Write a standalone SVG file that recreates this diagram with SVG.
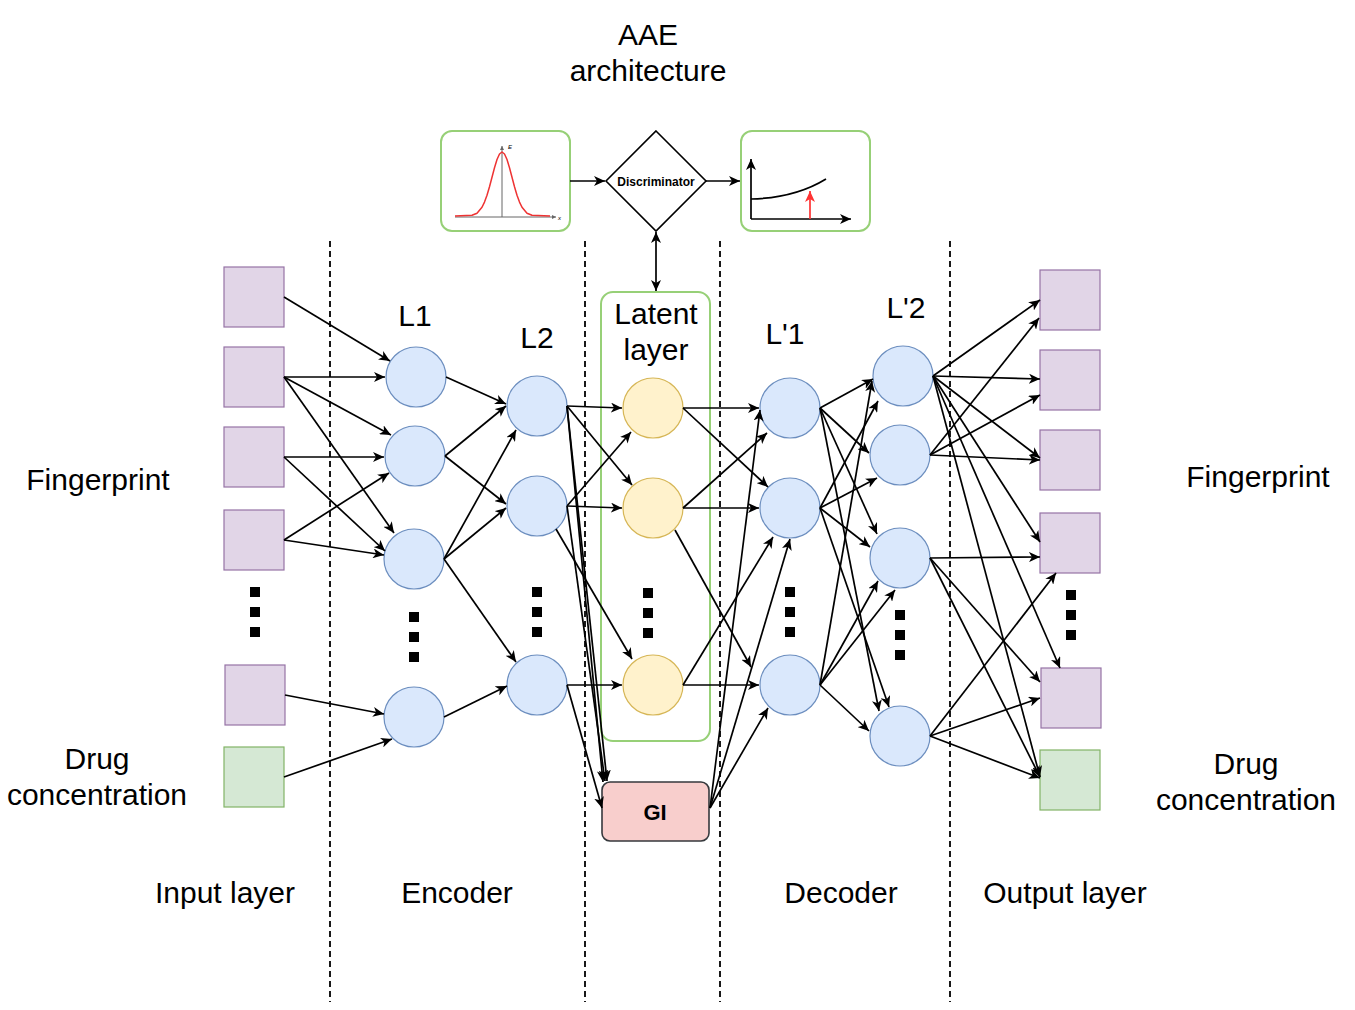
<svg xmlns="http://www.w3.org/2000/svg" width="1355" height="1010" viewBox="0 0 1355 1010">
<defs>
<marker id="ar" markerUnits="userSpaceOnUse" markerWidth="12" markerHeight="10" refX="11" refY="5" orient="auto"><path d="M0,0 L11,5 L0,10 L3,5 Z" fill="#000"/></marker>
<marker id="ars" markerUnits="userSpaceOnUse" markerWidth="12" markerHeight="10" refX="11" refY="5" orient="auto-start-reverse"><path d="M0,0 L11,5 L0,10 L3,5 Z" fill="#000"/></marker>
<marker id="arr" markerUnits="userSpaceOnUse" markerWidth="12" markerHeight="10" refX="11" refY="5" orient="auto"><path d="M0,0 L11,5 L0,10 L3,5 Z" fill="#ff3333"/></marker>
<marker id="arg" markerUnits="userSpaceOnUse" markerWidth="5" markerHeight="4" refX="4" refY="2" orient="auto"><path d="M0,0 L4,2 L0,4 Z" fill="#666"/></marker>
</defs>
<style>
text{font-family:"Liberation Sans",Arial,Helvetica,sans-serif;fill:#000}
.lbl{font-size:30px;text-anchor:middle}
.sq-p{fill:#e1d5e7;stroke:#9673a6;stroke-width:1.2}
.sq-g{fill:#d5e8d4;stroke:#82b366;stroke-width:1.2}
.nb{fill:#dae8fc;stroke:#6c8ebf;stroke-width:1.2}
.ny{fill:#fff2cc;stroke:#d6b656;stroke-width:1.2}
.gbox{fill:#fff;stroke:#97d077;stroke-width:2}
.dash{stroke:#000;stroke-width:1.8;stroke-dasharray:6 4;fill:none}
.e{stroke:#000;stroke-width:1.7;fill:none;marker-end:url(#ar)}
.dot{fill:#000}
</style>
<rect width="1355" height="1010" fill="#fff"/>

<g id="separators">
<line class="dash" x1="330" y1="241" x2="330" y2="1002"/>
<line class="dash" x1="585" y1="241" x2="585" y2="1002"/>
<line class="dash" x1="720" y1="241" x2="720" y2="1002"/>
<line class="dash" x1="950" y1="241" x2="950" y2="1002"/>
</g>

<g id="title"><text class="lbl" x="648" y="45">AAE</text><text class="lbl" x="648" y="81">architecture</text></g>

<g id="prior-box">
<rect class="gbox" x="441" y="131" width="129" height="100" rx="11"/>
<line x1="455" y1="217" x2="556" y2="217" stroke="#666" stroke-width="1" marker-end="url(#arg)"/>
<line x1="502" y1="217" x2="502" y2="146" stroke="#666" stroke-width="1" marker-end="url(#arg)"/>
<text x="508" y="149" style="font-size:6px;font-style:italic">E</text>
<text x="558" y="220" style="font-size:6px;font-style:italic">x</text>
<path d="M455,216 L472,215.3 L477,213.2 L482,207.3 L484.5,202.1 L487,195.2 L489.5,186.7 L492,177.2 L494.5,167.7 L497,159.5 L499.5,154 L502,152 L504.5,154 L507,159.5 L509.5,167.7 L512,177.2 L514.5,186.7 L517,195.2 L519.5,202.1 L522,207.3 L527,213.2 L532,215.3 L550,216" fill="none" stroke="#e33" stroke-width="1.5" stroke-linejoin="round"/>
</g>

<g id="discriminator">
<polygon points="656,131 706,181 656,231 606,181" fill="#fff" stroke="#000" stroke-width="1.6"/>
<text x="656" y="186" style="font-size:12px;font-weight:bold;text-anchor:middle">Discriminator</text>
</g>

<g id="loss-box">
<rect class="gbox" x="741" y="131" width="129" height="100" rx="11"/>
<line x1="751" y1="219" x2="851" y2="219" stroke="#000" stroke-width="1.7" marker-end="url(#ar)"/>
<line x1="751" y1="219" x2="751" y2="159" stroke="#000" stroke-width="1.7" marker-end="url(#ar)"/>
<path d="M751,199 Q795,198 826,179" fill="none" stroke="#000" stroke-width="1.7"/>
<line x1="810" y1="219" x2="810" y2="191" stroke="#ff3333" stroke-width="1.7" marker-end="url(#arr)"/>
</g>

<g id="input-layer">
<rect class="sq-p" x="224" y="267" width="60" height="60"/>
<rect class="sq-p" x="224" y="347" width="60" height="60"/>
<rect class="sq-p" x="224" y="427" width="60" height="60"/>
<rect class="sq-p" x="224" y="510" width="60" height="60"/>
<rect class="sq-p" x="225" y="665" width="60" height="60"/>
<rect class="sq-g" x="224" y="747" width="60" height="60"/>
<rect class="dot" x="250" y="587" width="10" height="10"/><rect class="dot" x="250" y="607" width="10" height="10"/><rect class="dot" x="250" y="627" width="10" height="10"/>
</g>

<g id="encoder-L1">
<circle class="nb" cx="416" cy="377" r="30"/>
<circle class="nb" cx="415" cy="456" r="30"/>
<circle class="nb" cx="414" cy="559" r="30"/>
<circle class="nb" cx="414" cy="717" r="30"/>
<rect class="dot" x="409" y="612" width="10" height="10"/><rect class="dot" x="409" y="632" width="10" height="10"/><rect class="dot" x="409" y="652" width="10" height="10"/>
</g>

<g id="encoder-L2">
<circle class="nb" cx="537" cy="406" r="30"/>
<circle class="nb" cx="537" cy="506" r="30"/>
<circle class="nb" cx="537" cy="685" r="30"/>
<rect class="dot" x="532" y="587" width="10" height="10"/><rect class="dot" x="532" y="607" width="10" height="10"/><rect class="dot" x="532" y="627" width="10" height="10"/>
</g>

<g id="latent-layer">
<rect class="gbox" x="601" y="292" width="109" height="449" rx="12"/>
<circle class="ny" cx="653" cy="408" r="30"/>
<circle class="ny" cx="653" cy="508" r="30"/>
<circle class="ny" cx="653" cy="685" r="30"/>
<rect class="dot" x="643" y="588" width="10" height="10"/><rect class="dot" x="643" y="608" width="10" height="10"/><rect class="dot" x="643" y="628" width="10" height="10"/>
</g>

<g id="gi">
<rect x="602" y="782" width="107" height="59" rx="8" fill="#f8cecc" stroke="#36393d" stroke-width="1.6"/>
<text x="655" y="820" style="font-size:22px;font-weight:bold;text-anchor:middle">GI</text>
</g>

<g id="decoder-L1">
<circle class="nb" cx="790" cy="408" r="30"/>
<circle class="nb" cx="790" cy="508" r="30"/>
<circle class="nb" cx="790" cy="685" r="30"/>
<rect class="dot" x="785" y="587" width="10" height="10"/><rect class="dot" x="785" y="607" width="10" height="10"/><rect class="dot" x="785" y="627" width="10" height="10"/>
</g>

<g id="decoder-L2">
<circle class="nb" cx="903" cy="376" r="30"/>
<circle class="nb" cx="900" cy="455" r="30"/>
<circle class="nb" cx="900" cy="558" r="30"/>
<circle class="nb" cx="900" cy="736" r="30"/>
<rect class="dot" x="895" y="610" width="10" height="10"/><rect class="dot" x="895" y="630" width="10" height="10"/><rect class="dot" x="895" y="650" width="10" height="10"/>
</g>

<g id="output-layer">
<rect class="sq-p" x="1040" y="270" width="60" height="60"/>
<rect class="sq-p" x="1040" y="350" width="60" height="60"/>
<rect class="sq-p" x="1040" y="430" width="60" height="60"/>
<rect class="sq-p" x="1040" y="513" width="60" height="60"/>
<rect class="sq-p" x="1041" y="668" width="60" height="60"/>
<rect class="sq-g" x="1040" y="750" width="60" height="60"/>
<rect class="dot" x="1066" y="590" width="10" height="10"/><rect class="dot" x="1066" y="610" width="10" height="10"/><rect class="dot" x="1066" y="630" width="10" height="10"/>
</g>

<g id="connectors">
<line class="e" x1="570" y1="181" x2="605" y2="181"/>
<line class="e" x1="706" y1="181" x2="740" y2="181"/>
<line x1="656" y1="232" x2="656" y2="291" stroke="#000" stroke-width="1.7" marker-start="url(#ars)" marker-end="url(#ars)"/>

<line class="e" x1="284" y1="297" x2="390" y2="361"/>
<line class="e" x1="284" y1="377" x2="385" y2="377"/>
<line class="e" x1="284" y1="377" x2="391" y2="435"/>
<line class="e" x1="284" y1="377" x2="394" y2="533"/>
<line class="e" x1="284" y1="457" x2="384" y2="457"/>
<line class="e" x1="284" y1="457" x2="385" y2="551"/>
<line class="e" x1="284" y1="540" x2="389" y2="473"/>
<line class="e" x1="284" y1="540" x2="384" y2="555"/>
<line class="e" x1="285" y1="695" x2="384" y2="714"/>
<line class="e" x1="284" y1="777" x2="392" y2="739"/>

<line class="e" x1="446" y1="377" x2="506" y2="404"/>
<line class="e" x1="445" y1="456" x2="506" y2="406"/>
<line class="e" x1="445" y1="456" x2="506" y2="504"/>
<line class="e" x1="444" y1="559" x2="516" y2="430"/>
<line class="e" x1="444" y1="559" x2="506" y2="508"/>
<line class="e" x1="444" y1="559" x2="516" y2="662"/>
<line class="e" x1="444" y1="717" x2="507" y2="686"/>

<line class="e" x1="567" y1="406" x2="622" y2="408"/>
<line class="e" x1="567" y1="406" x2="632" y2="485"/>
<line class="e" x1="567" y1="506" x2="631" y2="432"/>
<line class="e" x1="567" y1="506" x2="622" y2="508"/>
<line class="e" x1="556" y1="529" x2="632" y2="659"/>
<line class="e" x1="567" y1="685" x2="622" y2="685"/>
<line class="e" x1="567" y1="406" x2="603" y2="782"/>
<line class="e" x1="567" y1="406" x2="607" y2="781"/>
<line class="e" x1="567" y1="506" x2="605" y2="781"/>
<line class="e" x1="567" y1="685" x2="602" y2="808"/>

<line class="e" x1="683" y1="408" x2="759" y2="408"/>
<line class="e" x1="683" y1="408" x2="768" y2="487"/>
<line class="e" x1="683" y1="508" x2="767" y2="433"/>
<line class="e" x1="683" y1="508" x2="759" y2="508"/>
<line class="e" x1="675" y1="530" x2="751" y2="667"/>
<line class="e" x1="683" y1="685" x2="773" y2="537"/>
<line class="e" x1="683" y1="685" x2="759" y2="685"/>
<line class="e" x1="710" y1="808" x2="760" y2="410"/>
<line class="e" x1="710" y1="808" x2="790" y2="539"/>
<line class="e" x1="710" y1="808" x2="768" y2="708"/>

<line class="e" x1="820" y1="408" x2="873" y2="379"/>
<line class="e" x1="820" y1="408" x2="869" y2="453"/>
<line class="e" x1="820" y1="408" x2="877" y2="534"/>
<line class="e" x1="820" y1="408" x2="879" y2="711"/>
<line class="e" x1="820" y1="508" x2="878" y2="401"/>
<line class="e" x1="820" y1="508" x2="877" y2="478"/>
<line class="e" x1="820" y1="508" x2="870" y2="547"/>
<line class="e" x1="820" y1="508" x2="889" y2="707"/>
<line class="e" x1="820" y1="685" x2="872" y2="381"/>
<line class="e" x1="820" y1="685" x2="878" y2="581"/>
<line class="e" x1="820" y1="685" x2="895" y2="590"/>
<line class="e" x1="820" y1="685" x2="869" y2="731"/>

<line class="e" x1="933" y1="376" x2="1040" y2="300"/>
<line class="e" x1="933" y1="376" x2="1040" y2="379"/>
<line class="e" x1="933" y1="376" x2="1040" y2="458"/>
<line class="e" x1="933" y1="376" x2="1040" y2="542"/>
<line class="e" x1="933" y1="376" x2="1060" y2="668"/>
<line class="e" x1="933" y1="376" x2="1040" y2="777"/>
<line class="e" x1="930" y1="455" x2="1039" y2="318"/>
<line class="e" x1="930" y1="455" x2="1040" y2="395"/>
<line class="e" x1="930" y1="455" x2="1040" y2="460"/>
<line class="e" x1="930" y1="558" x2="1040" y2="557"/>
<line class="e" x1="930" y1="558" x2="1040" y2="682"/>
<line class="e" x1="930" y1="558" x2="1040" y2="777"/>
<line class="e" x1="930" y1="736" x2="1056" y2="573"/>
<line class="e" x1="930" y1="736" x2="1040" y2="698"/>
<line class="e" x1="930" y1="736" x2="1040" y2="778"/>
</g>

<g id="labels">
<text class="lbl" x="415" y="326">L1</text>
<text class="lbl" x="537" y="348">L2</text>
<text class="lbl" x="656" y="324">Latent</text>
<text class="lbl" x="656" y="360">layer</text>
<text class="lbl" x="785" y="344">L'1</text>
<text class="lbl" x="906" y="318">L'2</text>
<text class="lbl" x="98" y="490">Fingerprint</text>
<text class="lbl" x="97" y="769">Drug</text>
<text class="lbl" x="97" y="805">concentration</text>
<text class="lbl" x="1258" y="487">Fingerprint</text>
<text class="lbl" x="1246" y="774">Drug</text>
<text class="lbl" x="1246" y="810">concentration</text>
<text class="lbl" x="225" y="903">Input layer</text>
<text class="lbl" x="457" y="903">Encoder</text>
<text class="lbl" x="841" y="903">Decoder</text>
<text class="lbl" x="1065" y="903">Output layer</text>
</g>
</svg>
